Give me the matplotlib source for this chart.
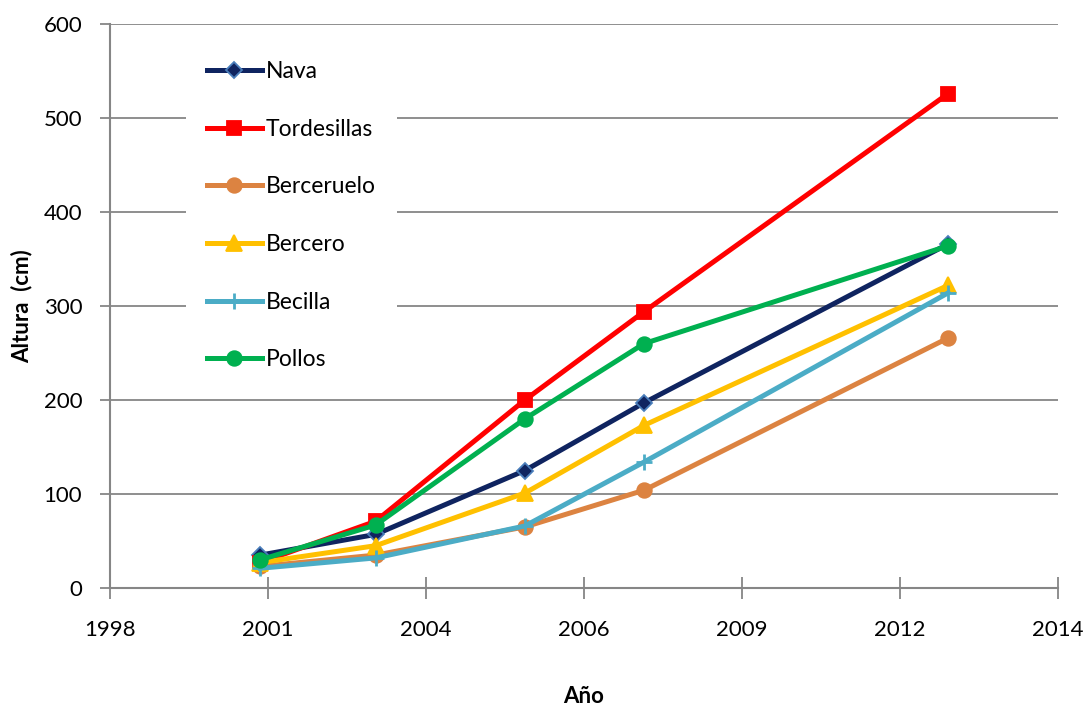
import matplotlib.pyplot as plt
import matplotlib.dates as mdates
import pandas as pd

plt.rcParams["font.family"] = ["Lato", "DejaVu Sans"]

# sampling dates and heights (cm) per site
fechas = pd.to_datetime(["2001-03-01", "2003-03-01", "2005-10-01", "2007-10-25", "2013-01-31"])

nava = [35, 57, 125, 197, 366]
tordesillas = [27, 71, 200, 294, 526]
berceruelo = [23, 35, 65, 104, 266]
bercero = [27, 45, 101, 173, 322]
becilla = [21, 32, 66, 134, 314]
pollos = [30, 67, 180, 260, 364]

series = [
    ("Nava", nava, "#0F2460", "D", 8, "#4A7EBB"),
    ("Tordesillas", tordesillas, "#FF0000", "s", 10.5, "#FF0000"),
    ("Berceruelo", berceruelo, "#DC8341", "o", 10.5, "#DC8341"),
    ("Bercero", bercero, "#FFC000", "^", 11, "#FFC000"),
    ("Becilla", becilla, "#4BACC6", "+", 11, "#4BACC6"),
    ("Pollos", pollos, "#00B050", "o", 10.5, "#00B050"),
]

GRIS = "#868686"

fig = plt.figure(figsize=(10.88, 7.05), dpi=100)
ax = fig.add_axes([110 / 1088, 1 - 588 / 705, 948 / 1088, 564 / 705])

for nombre, valores, color, marcador, tam, borde in series:
    ax.plot(fechas, valores, color=color, lw=3.6, marker=marcador, ms=tam,
            markerfacecolor=color, markeredgecolor=borde,
            markeredgewidth=2 if marcador == "+" else 1.3,
            label=nombre, solid_joinstyle="round", zorder=3)

# date axis with a tick every 1000 days, as a spreadsheet would do
ticks = pd.date_range("1998-07-24", periods=7, freq="1000D")
ax.set_xticks(ticks)
ax.xaxis.set_major_formatter(mdates.DateFormatter("%Y"))
ax.set_xlim(ticks[0], ticks[-1])

ax.set_ylim(0, 600)
ax.set_yticks(range(0, 601, 100))
ax.yaxis.grid(True, color=GRIS, lw=1.3)
ax.set_axisbelow(True)

for lado in ["top", "right"]:
    ax.spines[lado].set_visible(False)
for lado in ["left", "bottom"]:
    ax.spines[lado].set_color(GRIS)
    ax.spines[lado].set_linewidth(1.5)

ax.tick_params(axis="y", direction="out", length=7, width=1.3, color=GRIS,
               labelsize=16, pad=13)
ax.tick_params(axis="x", direction="inout", length=16, width=1.3, color=GRIS,
               labelsize=16, pad=15)

ax.set_ylabel("Altura  (cm)", fontsize=16, fontweight="bold", labelpad=8)
ax.set_xlabel("Año", fontsize=16, fontweight="bold", labelpad=33)

leg = ax.legend(loc="upper left", bbox_to_anchor=(0.080, 0.972), borderaxespad=0,
                frameon=True, facecolor="white", edgecolor="none", framealpha=1,
                fontsize=16.5, handlelength=2.4, handletextpad=0.17,
                labelspacing=1.6, borderpad=0.92)
leg.set_zorder(5)

fig.savefig("out.png", dpi=100)
